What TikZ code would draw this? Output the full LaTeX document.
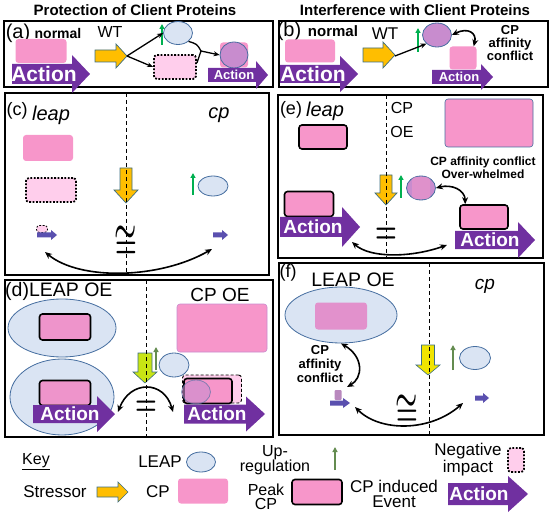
\documentclass[tikz,border=0pt]{standalone}
\usepackage{amsmath,amssymb}
\usepackage{fontspec}
\setmainfont{Liberation Sans}
\usetikzlibrary{shapes.geometric,arrows.meta}
\definecolor{cppink}{RGB}{247,150,202}
\definecolor{negpink}{RGB}{255,206,236}
\definecolor{leapblue}{RGB}{218,228,243}
\definecolor{leapline}{RGB}{70,110,160}
\definecolor{lilac}{RGB}{200,140,206}
\definecolor{actpurple}{RGB}{112,48,160}
\definecolor{stressorange}{RGB}{255,190,0}
\definecolor{stressline}{RGB}{60,110,130}
\definecolor{upgreen}{RGB}{0,176,80}
\definecolor{olivegreen}{RGB}{100,140,80}
\definecolor{limeyellow}{RGB}{200,228,20}
\definecolor{brightyellow}{RGB}{240,228,0}
\definecolor{smallblue}{RGB}{90,80,175}

\newcommand{\fsz}[2]{\fontsize{#1}{#2}\selectfont}
% right block arrow: style, x start, x tip, y centre, half body, half head, head length
\newcommand{\rblock}[7]{\path[#1] (#2,#4-#5) -- (#3-#7,#4-#5) -- (#3-#7,#4-#6) -- (#3,#4) -- (#3-#7,#4+#6) -- (#3-#7,#4+#5) -- (#2,#4+#5) -- cycle;}
% down block arrow: style, x centre, y start, y tip, half body, half head, head length
\newcommand{\dblock}[7]{\path[#1] (#2-#5,#3) -- (#2-#5,#4-#7) -- (#2-#6,#4-#7) -- (#2,#4) -- (#2+#6,#4-#7) -- (#2+#5,#4-#7) -- (#2+#5,#3) -- cycle;}

\tikzset{
panel/.style={line width=1.8pt},
divider/.style={line width=0.9pt, dash pattern=on 4pt off 3pt},
txt/.style={inner sep=0pt},
cpbox/.style={rectangle, rounded corners=3pt, fill=cppink, inner sep=0pt},
peakbox/.style={cpbox, draw=black, line width=1.6pt},
negbox/.style={cpbox, fill=negpink, draw=black, line width=1.8pt, dash pattern=on 1.8pt off 1.6pt},
leap/.style={ellipse, fill=leapblue, draw=leapline, line width=0.8pt, inner sep=0pt},
client/.style={leap, fill=lilac},
upreg/.style={draw=#1, line width=2pt, -{Triangle[width=5pt,length=5pt]}},
upreg/.default=upgreen,
toarrow/.style={line width=1.3pt, -{Stealth[length=6pt,width=5pt]}},
twoway/.style={line width=1.6pt, {Stealth[length=7pt,width=6pt]}-{Stealth[length=7pt,width=6pt]}},
actfill/.style={fill=actpurple},
acttext/.style={text=white, inner sep=0pt},
stressor/.style={fill=stressorange, draw=stressline, line width=0.7pt},
minor/.style={fill=smallblue}
}

\begin{document}
\begin{tikzpicture}[x=1pt,y=-1pt]
\useasboundingbox (0,0) rectangle (550,519);

\foreach \xa/\ya/\xb/\yb in {4/21/273/87, 279/21/548/87, 5/93/269/275, 278/95/543/258, 5/280/273/437, 279/263/544/435}
{
\draw[panel] (\xa,\ya) rectangle (\xb,\yb);
}

\node[txt, font=\fsz{15}{15}\bfseries] (titleP) at (135,10) {Protection of Client Proteins};
\node[txt, font=\fsz{15}{15}\bfseries] (titleI) at (415,10) {Interference with Client Proteins};

% (a)
\node[txt, font=\fsz{20}{20}] (labA) at (18,33) {(a)};
\node[txt, font=\fsz{14}{14}\bfseries] (normA) at (58,33) {normal};
\node[txt, font=\fsz{16}{16}] (wtA) at (110,32) {WT};
\node[cpbox, minimum width=51, minimum height=24] (cpA1) at (41,51) {};
\rblock{actfill}{12}{90}{74}{10}{19}{18}
\node[acttext, font=\fsz{21}{21}\bfseries] (actA1) at (44,74) {Action};
\rblock{stressor}{95}{127}{56}{6}{12}{11}
\coordinate (stA) at (127,56);
\node[leap, minimum width=29, minimum height=23] (leapA) at (178,33) {};
\node[negbox, minimum width=42, minimum height=24] (negA) at (175,67) {};
\draw[upreg] (162,45) -- (162,24);
\draw[toarrow] (stA) -- (leapA.west);
\draw[toarrow] (stA) -- (negA.west);
\coordinate (mergeA) at (201,51);
\draw[line width=1.3pt] (leapA.south east) .. controls (197,44) .. (mergeA);
\draw[line width=1.3pt] ([yshift=4pt]negA.east) .. controls (199,57) .. (mergeA);
\node[cpbox, minimum width=28, minimum height=25] (cpA2) at (234,55) {};
\node[client, minimum width=28, minimum height=26] (clientA) at (234,55) {};
\draw[toarrow] (mergeA) -- (clientA.west);
\rblock{actfill}{208}{268}{75}{7}{14}{12}
\node[acttext, font=\fsz{13}{13}\bfseries] (actA2) at (234,75) {Action};

% (b)
\node[txt, font=\fsz{20}{20}] (labB) at (289,31) {(b)};
\node[txt, font=\fsz{15}{15}\bfseries] (normB) at (333,31) {normal};
\node[txt, font=\fsz{17}{17}] (wtB) at (385,34) {WT};
\node[cpbox, minimum width=50, minimum height=23] (cpB1) at (310,51) {};
\rblock{actfill}{280}{358}{74}{9}{18}{18}
\node[acttext, font=\fsz{21}{21}\bfseries] (actB1) at (313,74) {Action};
\rblock{stressor}{363}{395}{55}{7}{13}{12}
\coordinate (stB) at (395,56);
\draw[upreg] (418,52) -- (418,28);
\node[client, minimum width=29, minimum height=24] (clientB) at (437,35) {};
\draw[toarrow] (stB) -- (clientB.south west);
\node[cpbox, minimum width=27, minimum height=23] (cpB2) at (463,58) {};
\rblock{actfill}{432}{493}{77}{7}{13}{12}
\node[acttext, font=\fsz{13}{13}\bfseries] (actB2) at (459,77) {Action};
\draw[twoway] (clientB.east) .. controls (468,27) and (477,33) .. ([xshift=-3pt]cpB2.north east);
\node[txt, font=\fsz{13}{13}\bfseries, align=center] (confB) at (510,43) {CP\\affinity\\conflict};

% (c)
\node[txt, font=\fsz{18}{18}] (labC) at (17,111) {(c)};
\node[txt, font=\fsz{20}{20}\itshape] (leapC) at (51,115) {leap};
\node[txt, font=\fsz{20}{20}\itshape] (cpC) at (219,115) {cp};
\node[cpbox, minimum width=50, minimum height=26] (cpC1) at (48,148) {};
\node[negbox, minimum width=50, minimum height=24] (negC) at (51,190) {};
\dblock{stressor}{126}{168}{203}{6}{12}{13}
\draw[upreg] (193,195) -- (193,173);
\node[leap, minimum width=30, minimum height=20] (leapC2) at (213,186) {};
\node[negbox, line width=0.8pt, minimum width=11, minimum height=7] (negC2) at (42,229) {};
\rblock{minor}{37}{57}{235}{2.5}{5}{6}
\rblock{minor}{213}{228}{235}{2.5}{5}{6}
\node[txt, font=\fsz{26}{26}] (simC) at (126,242) {\scalebox{1}[1.7]{$\boldsymbol{\cong}$}};
\coordinate (lC) at (45,252);
\coordinate (rC) at (212,249);
\draw[twoway] (lC) .. controls (80,281) and (160,279) .. (rC);

% (e)
\node[txt, font=\fsz{18}{18}] (labE) at (291,110) {(e)};
\node[txt, font=\fsz{20}{20}\itshape] (leapE) at (325,111) {leap};
\node[txt, font=\fsz{16}{16}] (cpE) at (402,108) {CP};
\node[txt, font=\fsz{16}{16}] (oeE) at (402,132) {OE};
\node[cpbox, draw=leapline, line width=0.6pt, minimum width=88, minimum height=48] (cpE1) at (489,123) {};
\node[peakbox, minimum width=48, minimum height=24] (peakE1) at (323,137) {};
\node[txt, font=\fsz{12}{13}\bfseries, align=center] (confE) at (483,168) {CP affinity conflict\\Over-whelmed};
\dblock{stressor}{386}{175}{205}{6}{11}{12}
\draw[upreg] (401,198) -- (401,175);
\node[client, minimum width=29, minimum height=24] (clientE) at (421,188) {};
\node[cpbox, opacity=0.5, minimum width=18, minimum height=22] (cpE2) at (421,188) {};
\node[peakbox, minimum width=49, minimum height=25] (peakE2) at (309,204) {};
\rblock{actfill}{280}{360}{227}{10}{20}{18}
\node[acttext, font=\fsz{19}{19}\bfseries] (actE1) at (313,227) {Action};
\node[peakbox, minimum width=48, minimum height=24] (peakE3) at (484,217) {};
\rblock{actfill}{455}{535}{240}{9}{18}{17}
\node[acttext, font=\fsz{19}{19}\bfseries] (actE2) at (490,240) {Action};
\draw[twoway] (clientE.east) .. controls (452,184) and (465,190) .. ([xshift=6pt]peakE3.north west);
\node[txt, font=\fsz{26}{26}] (neqE) at (386,236) {\scalebox{1}[1.6]{$\boldsymbol{=}$}};
\coordinate (lE) at (352,242);
\coordinate (rE) at (447,245);
\draw[twoway] (lE) .. controls (370,258) and (410,258) .. (rE);

% (d)
\node[txt, font=\fsz{19.5}{19.5}, anchor=west] (labD) at (5,291) {(d)LEAP OE};
\node[txt, font=\fsz{19}{19}] (cpoeD) at (220,295) {CP OE};
\node[leap, minimum width=108, minimum height=58] (leapD1) at (62,328) {};
\node[peakbox, fill=cppink!80!lilac, minimum width=51, minimum height=26] (peakD1) at (65,327) {};
\node[leap, minimum width=104, minimum height=76] (leapD2) at (62,397) {};
\node[peakbox, fill=cppink!80!lilac, minimum width=51, minimum height=25] (peakD2) at (65,393) {};
\rblock{actfill}{33}{115}{414}{9}{18}{18}
\node[acttext, font=\fsz{19}{19}\bfseries] (actD1) at (70,414) {Action};
\node[cpbox, draw=lilac, line width=0.6pt, minimum width=90, minimum height=48] (cpD1) at (222,328) {};
\dblock{fill=limeyellow, draw=stressline, line width=0.6pt}{145}{353}{383}{7}{12}{11}
\draw[upreg=olivegreen] (156,370) -- (156,347);
\node[leap, minimum width=30, minimum height=24] (leapD3) at (174,365) {};
\node[cpbox, fill=negpink, draw=black, line width=0.9pt, dash pattern=on 3pt off 2pt, minimum width=59, minimum height=28] (negD) at (212,389) {};
\node[peakbox, minimum width=48, minimum height=25] (peakD3) at (208,391) {};
\node[client, opacity=0.6, minimum width=29, minimum height=24] (clientD) at (196,392) {};
\rblock{actfill}{184}{265}{414}{9.5}{17.5}{19}
\node[acttext, font=\fsz{19}{19}\bfseries] (actD2) at (217,414) {Action};
\coordinate (lD) at (118,412);
\coordinate (rD) at (173,412);
\draw[twoway] (lD) .. controls (130,380) and (164,380) .. (rD);
\node[txt, font=\fsz{24}{24}] (neqD) at (146,408) {\scalebox{1}[1.5]{$\boldsymbol{=}$}};

% (f)
\node[txt, font=\fsz{18}{18}] (labF) at (288,273) {(f)};
\node[txt, font=\fsz{19.5}{19.5}] (leapoeF) at (353,280) {LEAP OE};
\node[txt, font=\fsz{19}{19}\itshape] (cpF) at (485,286) {cp};
\node[leap, minimum width=112, minimum height=56] (leapF) at (341,315) {};
\node[cpbox, fill=cppink!55!lilac, minimum width=52, minimum height=27] (cpF1) at (341,316) {};
\node[txt, font=\fsz{13}{14}\bfseries, align=center] (confF) at (320,364) {CP\\affinity\\conflict};
\coordinate (bAF) at (347,387);
\draw[twoway] (leapF.south) .. controls (364,357) and (363,378) .. (bAF);
\node[cpbox, rounded corners=1pt, fill=lilac!80!gray, minimum width=7, minimum height=10] (cpF2) at (338,395) {};
\rblock{minor}{330}{350}{403}{2.5}{5}{7}
\dblock{fill=brightyellow, draw=stressline, line width=0.6pt}{428}{345}{375}{6.5}{12}{10}
\draw[upreg=olivegreen] (453,370) -- (453,345);
\node[leap, minimum width=31, minimum height=23] (leapF2) at (475,358) {};
\rblock{minor}{475}{489}{398}{2.5}{5}{6}
\node[txt, font=\fsz{26}{26}] (simF) at (407,410) {\scalebox{1}[1.6]{$\boldsymbol{\cong}$}};
\coordinate (lF) at (355,407);
\coordinate (rF) at (463,403);
\draw[twoway] (lF) .. controls (380,432) and (430,432) .. (rF);

\foreach \x/\ya/\yb in {126/93/275, 386/95/258, 146/280/437, 429/263/435}
{
\draw[divider] (\x,\ya) -- (\x,\yb);
}

% key
\node[txt, font=\fsz{16}{16}] (keyT) at (36,462) {\underline{Key}};
\node[txt, font=\fsz{17}{17}] (keyLeapT) at (160,462) {LEAP};
\node[leap, minimum width=29, minimum height=20] (keyLeap) at (201,462) {};
\node[txt, font=\fsz{17}{17}] (keyStressT) at (55,492) {Stressor};
\rblock{stressor}{97}{128}{492}{5}{10}{10}
\node[txt, font=\fsz{17}{17}] (keyCPT) at (158,492) {CP};
\node[cpbox, minimum width=50, minimum height=25] (keyCP) at (203,491) {};
\node[txt, font=\fsz{16}{15}, align=center] (keyUpT) at (275,460) {Up-\\regulation};
\draw[upreg=olivegreen] (335,470) -- (335,447);
\node[txt, font=\fsz{17}{15}, align=center] (keyNegT) at (468,460) {Negative\\impact};
\node[negbox, minimum width=16, minimum height=24] (keyNeg) at (516,460) {};
\node[txt, font=\fsz{16}{13.5}, align=center] (keyPeakT) at (266,497) {Peak\\CP};
\node[peakbox, minimum width=50, minimum height=25] (keyPeak) at (317,492) {};
\node[txt, font=\fsz{17}{15}, align=center] (keyEventT) at (394,494) {CP induced\\Event};
\rblock{actfill}{448}{528}{494}{11}{18}{20}
\node[acttext, font=\fsz{19}{19}\bfseries] (keyAct) at (479,494) {Action};

\end{tikzpicture}
\end{document}
